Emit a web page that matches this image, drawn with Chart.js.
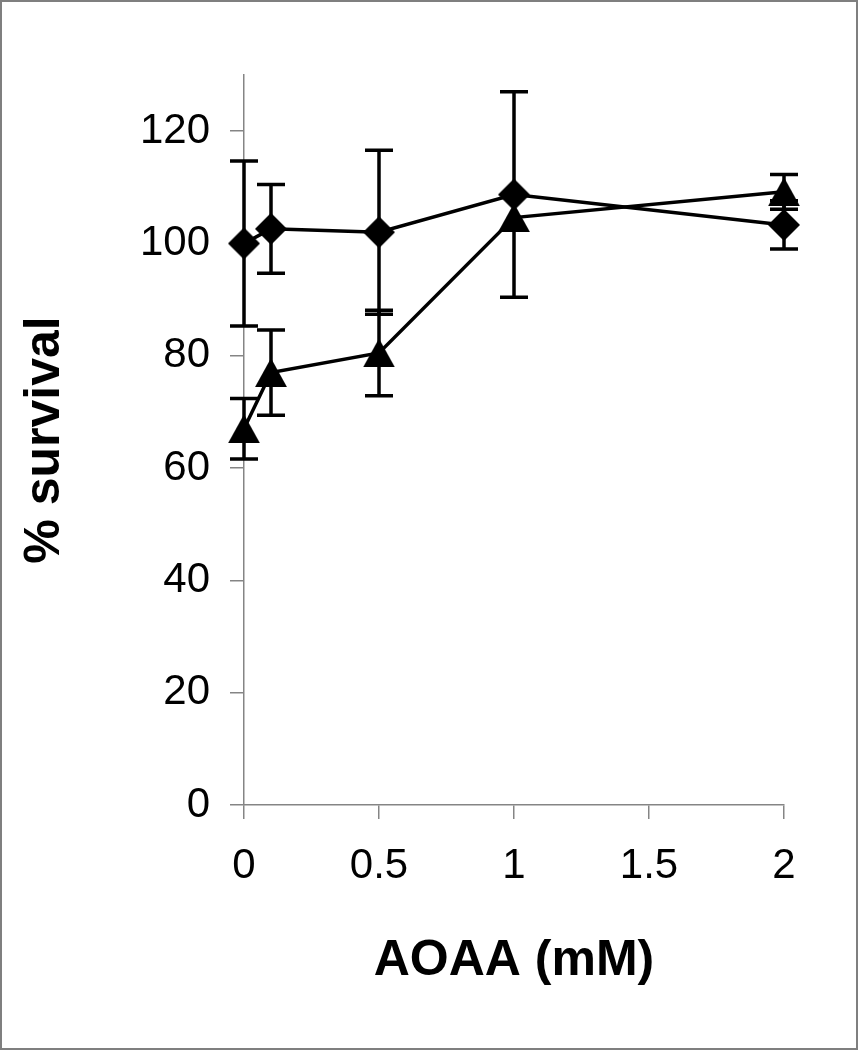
<!DOCTYPE html>
<html>
<head>
<meta charset="utf-8">
<script src="https://cdn.jsdelivr.net/npm/chart.js@4.4.1/dist/chart.umd.min.js"></script>
<style>
    html, body { margin: 0; padding: 0; background: #fff; }
    #wrap {
        width: 858px;
        height: 1050px;
        box-sizing: border-box;
        border: 2px solid #7f7f7f;
        position: relative;
    }
</style>
</head>
<body>
<div id="wrap"><canvas id="survivalChart"></canvas></div>
<script>
// AOAA concentration (mM)
const aoaa = [0, 0.1, 0.5, 1, 2];

// diamond series
const survivalDiamond = [100, 102.6, 102.0, 108.7, 103.3];
const errDiamond = [14.7, 7.9, 14.6, 18.3, 4.3];

// triangle series
const survivalTriangle = [67.0, 77.0, 80.5, 104.6, 109.2];
const errTriangle = [5.4, 7.6, 7.6, 0, 3.1];

const yTicks = [0, 20, 40, 60, 80, 100, 120];
const xTicks = [0, 0.5, 1, 1.5, 2];
const xTickLabels = ["0", "0.5", "1", "1.5", "2"];

function makeMarker(kind) {
    const c = document.createElement("canvas");
    const ctx = c.getContext("2d");
    if (kind === "diamond") {
        c.width = 32; c.height = 32;
        ctx.beginPath();
        ctx.moveTo(16, 0); ctx.lineTo(32, 16); ctx.lineTo(16, 32); ctx.lineTo(0, 16);
    } else {
        c.width = 32; c.height = 29;
        ctx.beginPath();
        ctx.moveTo(16, 0); ctx.lineTo(32, 29); ctx.lineTo(0, 29);
    }
    ctx.closePath();
    ctx.fillStyle = "#000";
    ctx.fill();
    return c;
}

const errorBars = {
    id: "errorBars",
    beforeDatasetsDraw(chart) {
        const ctx = chart.ctx;
        const xs = chart.scales.x;
        const ys = chart.scales.y;
        ctx.save();
        ctx.strokeStyle = "#000";
        ctx.lineWidth = 3.5;
        chart.data.datasets.forEach((ds) => {
            ds.data.forEach((pt, i) => {
                const e = ds.errors[i];
                if (!e) return;
                const px = xs.getPixelForValue(pt.x);
                const top = ys.getPixelForValue(pt.y + e);
                const bot = ys.getPixelForValue(pt.y - e);
                ctx.beginPath();
                ctx.moveTo(px, top); ctx.lineTo(px, bot);
                ctx.moveTo(px - 14, top); ctx.lineTo(px + 14, top);
                ctx.moveTo(px - 14, bot); ctx.lineTo(px + 14, bot);
                ctx.stroke();
            });
        });
        ctx.restore();
    }
};

const axisColor = "#858585";

new Chart(document.getElementById("survivalChart"), {
    type: "line",
    data: {
        datasets: [
            {
                label: "diamond",
                data: aoaa.map((x, i) => ({ x: x, y: survivalDiamond[i] })),
                errors: errDiamond,
                borderColor: "#000",
                borderWidth: 3.5,
                pointStyle: makeMarker("diamond"),
                tension: 0,
                fill: false,
                clip: false,
            },
            {
                label: "triangle",
                data: aoaa.map((x, i) => ({ x: x, y: survivalTriangle[i] })),
                errors: errTriangle,
                borderColor: "#000",
                borderWidth: 3.5,
                pointStyle: makeMarker("triangle"),
                tension: 0,
                fill: false,
                clip: false,
            },
        ],
    },
    options: {
        responsive: true,
        maintainAspectRatio: false,
        animation: false,
        layout: {
            padding: { left: 0, top: 73, right: 72, bottom: 43 },
        },
        plugins: {
            legend: { display: false },
            tooltip: { enabled: false },
        },
        scales: {
            x: {
                type: "linear",
                min: 0,
                max: 2,
                afterBuildTicks: (s) => { s.ticks = xTicks.map((v) => ({ value: v })); },
                afterFit: (s) => { s.height = 200; },
                grid: { drawOnChartArea: false, tickLength: 14, color: axisColor, lineWidth: 1.5 },
                border: { color: axisColor, width: 1.5 },
                ticks: {
                    color: "#000",
                    padding: 22,
                    callback: (v) => xTickLabels[xTicks.indexOf(v)],
                    font: { family: "'Liberation Sans', Arial, sans-serif", size: 42 },
                },
                title: {
                    display: true,
                    text: "AOAA (mM)",
                    color: "#000",
                    padding: { top: 0, bottom: 14 },
                    font: { family: "'Liberation Sans', Arial, sans-serif", size: 50, weight: "bold" },
                },
            },
            y: {
                type: "linear",
                min: 0,
                max: 130,
                afterBuildTicks: (s) => { s.ticks = yTicks.map((v) => ({ value: v })); },
                afterFit: (s) => { s.width = 242; },
                grid: { drawOnChartArea: false, tickLength: 14, color: axisColor, lineWidth: 1.5 },
                border: { color: axisColor, width: 1.5 },
                ticks: {
                    color: "#000",
                    padding: 20,
                    font: { family: "'Liberation Sans', Arial, sans-serif", size: 42 },
                },
                title: {
                    display: true,
                    text: "% survival",
                    color: "#000",
                    padding: { top: 13, bottom: 0 },
                    font: { family: "'Liberation Sans', Arial, sans-serif", size: 50, weight: "bold" },
                },
            },
        },
    },
    plugins: [errorBars],
});
</script>
</body>
</html>
